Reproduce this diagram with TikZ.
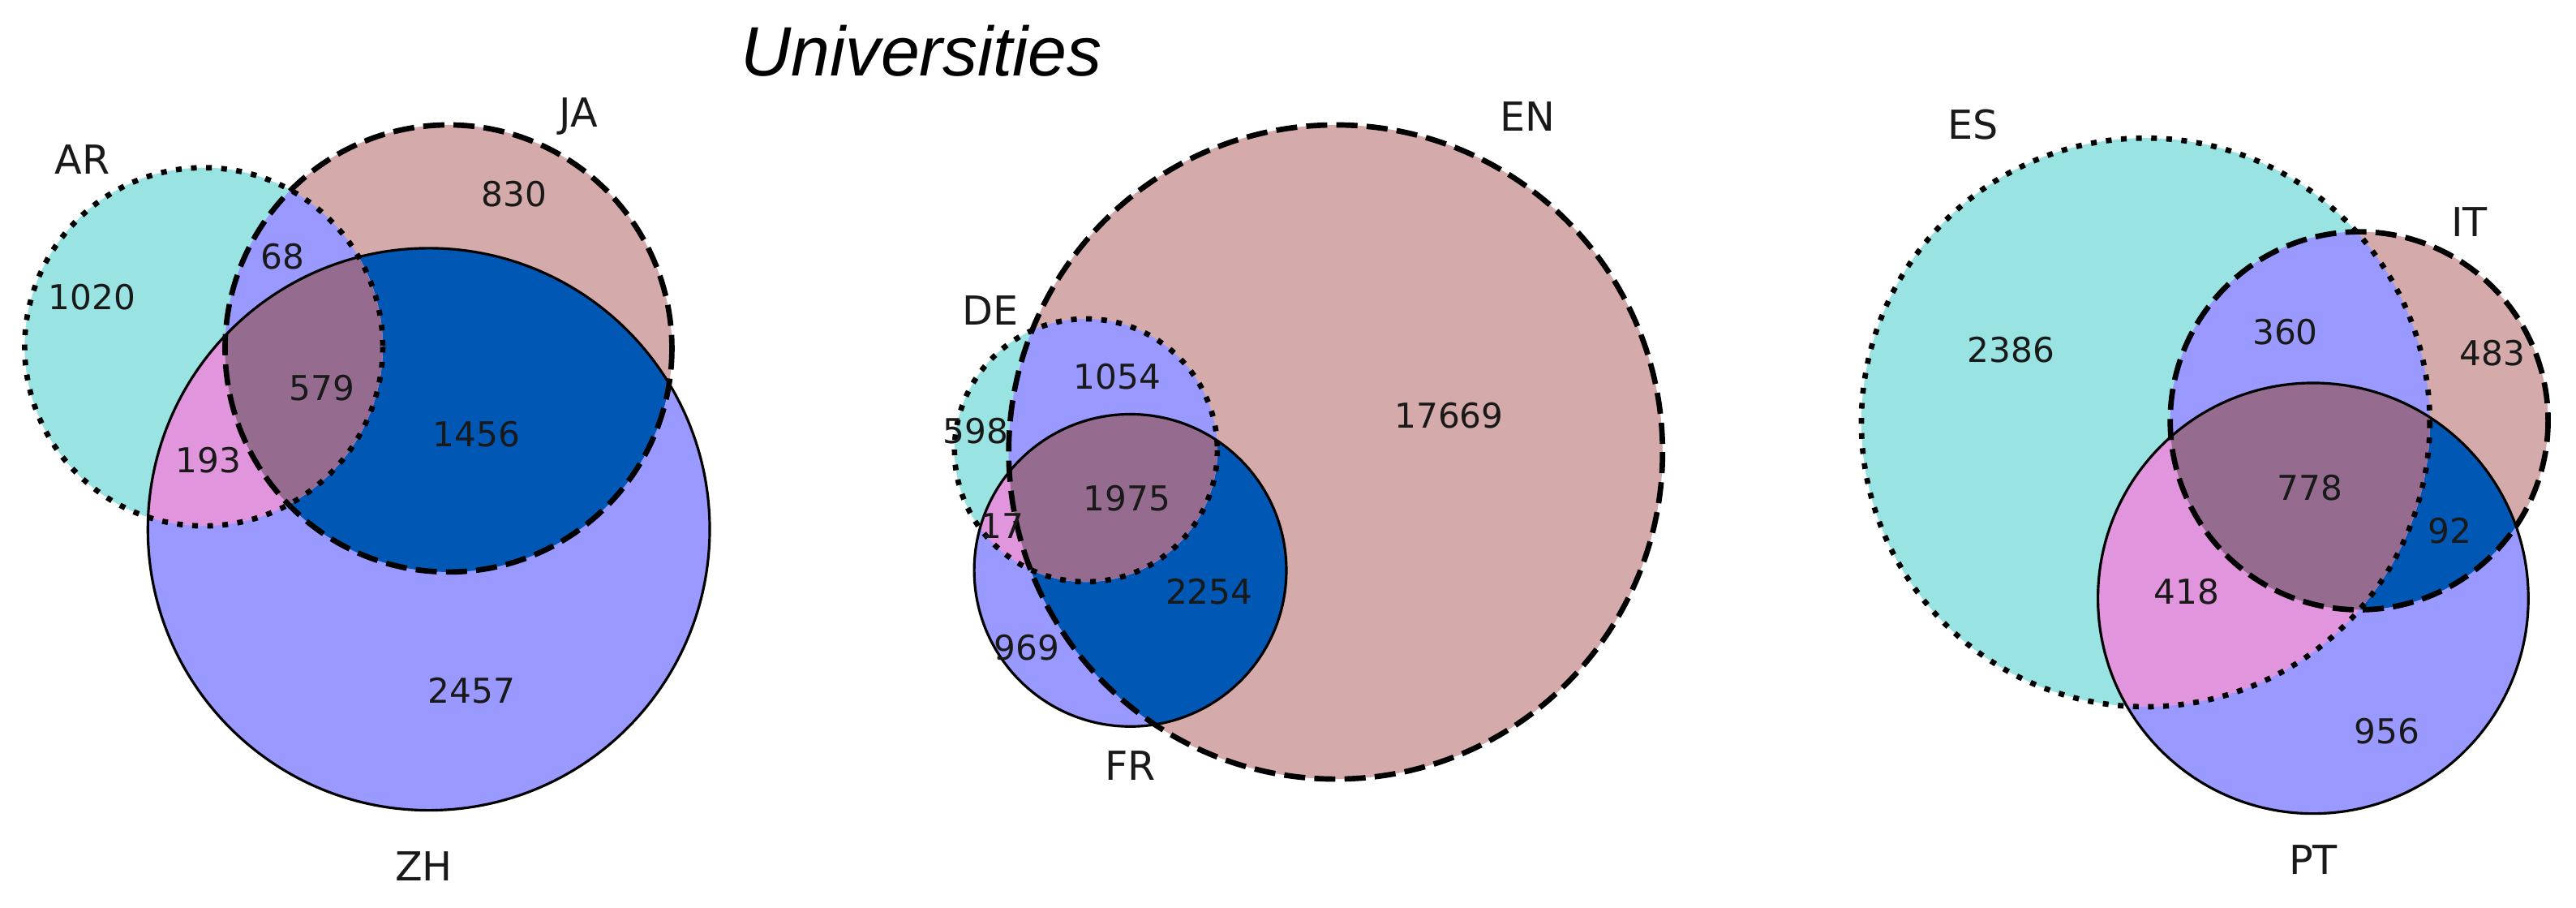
\documentclass[tikz,border=0pt]{standalone}
\usepackage{fontspec}
\setmainfont{DejaVu Sans}
\newfontfamily\titlefont{Liberation Sans}
\definecolor{cA}{HTML}{99E3E3}
\definecolor{cB}{HTML}{D4AAAA}
\definecolor{cC}{HTML}{9999FF}
\definecolor{cAB}{HTML}{9999FF}
\definecolor{cAC}{HTML}{E095DC}
\definecolor{cBC}{HTML}{0057B4}
\definecolor{cABC}{HTML}{956C8F}
\tikzset{
  dotline/.style={line width=1.9pt, dash pattern=on 2pt off 3.3pt},
  dashline/.style={line width=1.9pt, dash pattern=on 7.4pt off 3.2pt},
  solidline/.style={line width=0.9pt},
  setlabel/.style={font=\fontsize{14pt}{16pt}\selectfont, text=black!90, inner sep=0pt},
  numlabel/.style={font=\fontsize{12pt}{14pt}\selectfont, text=black!90, inner sep=0pt},
}
\newcommand\drawvenn[9]{%
  \fill[cA] (#1,#2) circle (#3);
  \fill[cB] (#4,#5) circle (#6);
  \fill[cC] (#7,#8) circle (#9);
  \begin{scope}
    \clip (#4,#5) circle (#6);
    \fill[cBC] (#7,#8) circle (#9);
  \end{scope}
  \begin{scope}
    \clip (#1,#2) circle (#3);
    \fill[cAB] (#4,#5) circle (#6);
    \fill[cAC] (#7,#8) circle (#9);
    \clip (#4,#5) circle (#6);
    \fill[cABC] (#7,#8) circle (#9);
  \end{scope}
  \draw[solidline] (#7,#8) circle (#9);
  \draw[dotline] (#1,#2) circle (#3);
  \draw[dashline] (#4,#5) circle (#6);
}
\begin{document}
\begin{tikzpicture}[x=0.020255cm, y=-0.020255cm]
\useasboundingbox (0,0) rectangle (1568,552);
\fill[white] (0,0) rectangle (1568,552);

\node[font=\titlefont\itshape\fontsize{24.5pt}{28pt}\selectfont, inner sep=0pt] (title) at (561,31) {Universities};

% left: AR, JA, ZH
\drawvenn{124}{211}{109}{273}{212}{136}{261}{322}{171}
\node[setlabel] (lAR) at (50,97) {AR};
\node[setlabel] (lJA) at (352,71) {JA};
\node[setlabel] (lZH) at (258,527) {ZH};
\node[numlabel] (n1020) at (56,181) {1020};
\node[numlabel] (n830) at (313,118) {830};
\node[numlabel] (n68) at (172,156) {68};
\node[numlabel] (n579) at (196,236) {579};
\node[numlabel] (n1456) at (290,264) {1456};
\node[numlabel] (n193) at (127,280) {193};
\node[numlabel] (n2457) at (287,420) {2457};

% middle: DE, EN, FR
\drawvenn{661}{274}{80}{813}{275}{199}{688}{347}{95}
\node[setlabel] (lDE) at (603,189) {DE};
\node[setlabel] (lEN) at (930,71) {EN};
\node[setlabel] (lFR) at (688,466) {FR};
\node[numlabel] (n1054) at (680,229) {1054};
\node[numlabel] (n598) at (594,262) {598};
\node[numlabel] (n17669) at (882,253) {17669};
\node[numlabel] (n1975) at (686,303) {1975};
\node[numlabel] (n17) at (610,320) {17};
\node[numlabel] (n2254) at (736,360) {2254};
\node[numlabel] (n969) at (625,394) {969};

% right: ES, IT, PT
\drawvenn{1306}{257}{173}{1436}{256}{115}{1408}{364}{131}
\node[setlabel] (lES) at (1201,76) {ES};
\node[setlabel] (lIT) at (1503,135) {IT};
\node[setlabel] (lPT) at (1408,523) {PT};
\node[numlabel] (n2386) at (1224,213) {2386};
\node[numlabel] (n360) at (1391,202) {360};
\node[numlabel] (n483) at (1517,215) {483};
\node[numlabel] (n778) at (1406,297) {778};
\node[numlabel] (n92) at (1491,323) {92};
\node[numlabel] (n418) at (1331,360) {418};
\node[numlabel] (n956) at (1453,445) {956};
\end{tikzpicture}
\end{document}
